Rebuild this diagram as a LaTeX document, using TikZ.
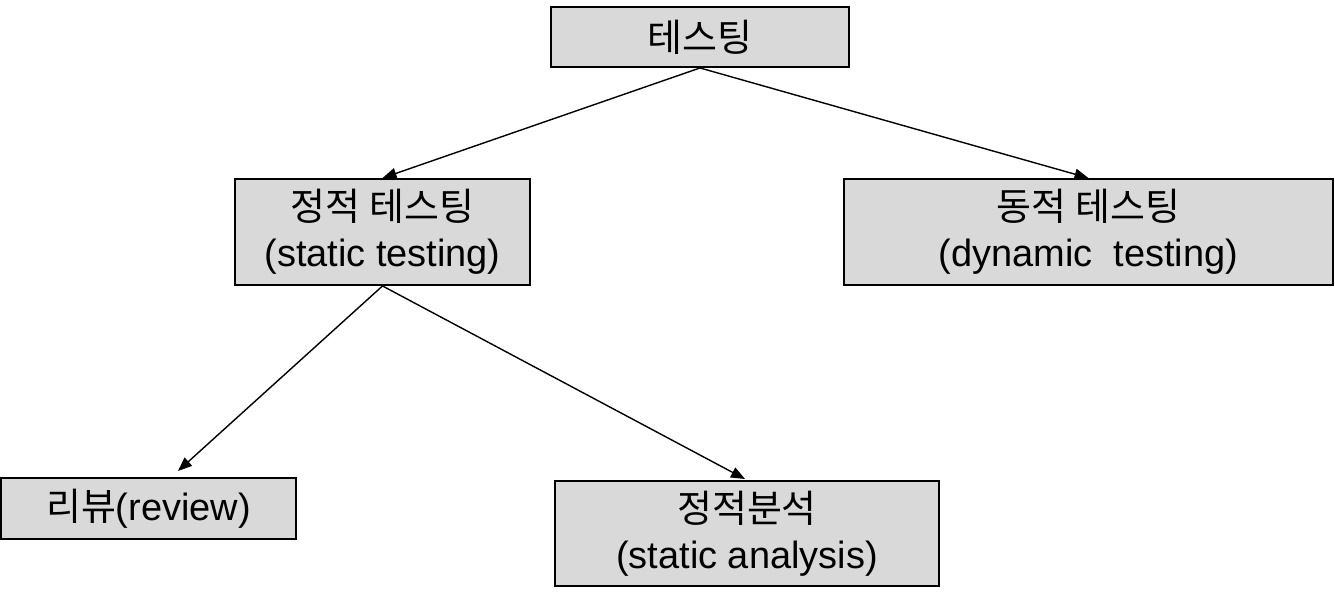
\documentclass[tikz,border=0pt]{standalone}
\usepackage{fontspec}
\setmainfont{Liberation Sans}
\newfontfamily\kr{Noto Sans CJK KR}
\usetikzlibrary{arrows.meta}
\definecolor{boxgray}{RGB}{217,217,217}
\tikzset{
  box/.style={
    draw=black,
    fill=boxgray,
    line width=1.1pt,
    align=center,
    inner sep=0pt,
    font=\fontsize{21.6}{26.2}\selectfont
  },
  conn/.style={
    line width=0.8pt,
    -{Triangle[length=0.28cm,width=0.22cm]}
  }
}

\begin{document}
\begin{tikzpicture}[x=0.02cm, y=-0.02cm]
  \useasboundingbox (0,0) rectangle (1335,602);
  % boxes
  \node[box, minimum width=5.96cm, minimum height=1.2cm] (test) at (700,37) {\kr 테스팅};
  \node[box, minimum width=5.9cm, minimum height=2.12cm] (static) at (382.5,232)
    {{\kr 정적 테스팅}\\(static testing)};
  \node[box, minimum width=9.78cm, minimum height=2.12cm] (dynamic) at (1088.5,232)
    {{\kr 동적 테스팅}\\(dynamic~~testing)};
  \node[box, minimum width=5.9cm, minimum height=1.22cm] (review) at (148.5,508.5)
    {{\kr 리뷰}(review)};
  \node[box, minimum width=7.68cm, minimum height=2.1cm] (analysis) at (747,533.5)
    {{\kr 정적분석}\\(static analysis)};
  \coordinate (reviewtip) at (178,471);
  \coordinate (analysistip) at (745,479);
  % arrows
  \draw[conn] (test.south) -- (static.north);
  \draw[conn] (test.south) -- (dynamic.north);
  \draw[conn] (static.south) -- (reviewtip);
  \draw[conn] (static.south) -- (analysistip);
\end{tikzpicture}
\end{document}
